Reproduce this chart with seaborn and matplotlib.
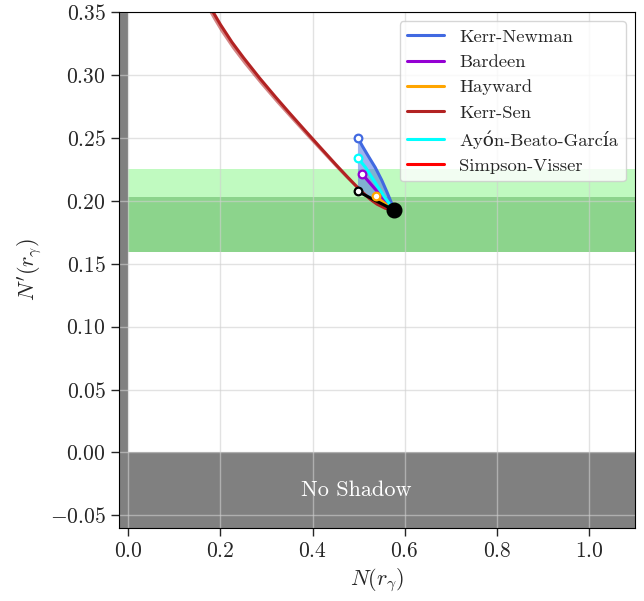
import matplotlib
matplotlib.use('Agg')
import matplotlib.pyplot as plt
import seaborn as sns
import numpy as np

# values
ks_x = [0.165, 0.184, 0.200, 0.225, 0.250, 0.285, 0.320, 0.350, 0.385, 0.416,
        0.450, 0.475, 0.494, 0.510, 0.525, 0.540, 0.558, 0.577]
ks_y = [0.3625, 0.3500, 0.3400, 0.3260, 0.3137, 0.2975, 0.2823, 0.2697, 0.2553, 0.2427,
        0.2290, 0.2192, 0.2120, 0.2062, 0.2013, 0.1973, 0.1940, 0.1925]
ks_y_low = [0.3565, 0.3442, 0.3345, 0.3210, 0.3090, 0.2933, 0.2784, 0.2662, 0.2521, 0.2399,
            0.2265, 0.2171, 0.2103, 0.2048, 0.2002, 0.1966, 0.1936, 0.1925]

kn_x = [0.4985, 0.508, 0.521, 0.536, 0.550, 0.562, 0.571, 0.577]
kn_y = [0.250, 0.2435, 0.2355, 0.2265, 0.2165, 0.2065, 0.1985, 0.1925]

abg_x = [0.4985, 0.515, 0.535, 0.556, 0.577]
abg_y = [0.234, 0.2265, 0.2150, 0.2030, 0.1925]

bard_x = [0.507, 0.530, 0.555, 0.577]
bard_y = [0.2215, 0.2118, 0.2012, 0.1925]

hay_x = [0.537, 0.557, 0.577]
hay_y = [0.2035, 0.1978, 0.1925]

sv_x = [0.577, 0.577]
sv_y = [0.1925, 0.1890]

blk_x = [0.4985, 0.538, 0.577]
blk_y = [0.2074, 0.1999, 0.1925]

schw = (0.577, 0.1925)

band_light = (0.1595, 0.2254)
band_dark = (0.1595, 0.2032)

sns.set_style('ticks')
plt.rcParams['font.family'] = ['cmr10', 'DejaVu Serif']
plt.rcParams['mathtext.fontset'] = 'cm'
plt.rcParams['axes.formatter.use_mathtext'] = True

fig = plt.figure(figsize=(6.44, 6.01), dpi=100)
ax = fig.add_axes([0.185, 0.1215, 0.801, 0.8585])

ax.axvspan(-0.02, 0.0, color='gray', lw=0, zorder=0.5)
ax.axhspan(-0.06, 0.0, color='gray', lw=0, zorder=0.5)
ax.axhspan(*band_light, color='#c0fac0', lw=0, zorder=0.4)
ax.axhspan(*band_dark, color='#8cd48c', lw=0, zorder=0.45)
ax.text(0.495, -0.03, 'No Shadow', color='white', fontsize=16, ha='center', va='center')

# Kerr-Newman region
ax.fill(kn_x + blk_x[::-1], kn_y + blk_y[::-1], color='royalblue', alpha=0.5, lw=0, zorder=1.6)

# Kerr-Sen band
ax.fill_between(ks_x, ks_y_low, ks_y, color='firebrick', alpha=0.55, lw=0, zorder=1.7)

series = [
    ('Kerr-Newman', kn_x, kn_y, 'royalblue'),
    ('Bardeen', bard_x, bard_y, 'darkviolet'),
    ('Hayward', hay_x, hay_y, 'orange'),
    ('Kerr-Sen', ks_x, ks_y, 'firebrick'),
    ('Ayón-Beato-García', abg_x, abg_y, 'cyan'),
    ('Simpson-Visser', sv_x, sv_y, 'red'),
]
for name, xs, ys, c in series:
    sns.lineplot(x=xs, y=ys, sort=False, color=c, lw=2.2, label=name, ax=ax)
sns.lineplot(x=blk_x, y=blk_y, sort=False, color='black', lw=2.2, ax=ax)

for name, xs, ys, c in series:
    if name in ('Kerr-Sen', 'Simpson-Visser'):
        continue
    ax.plot(xs[0], ys[0], 'o', ms=5.5, mfc='white', mec=c, mew=1.6, zorder=3)
ax.plot(blk_x[0], blk_y[0], 'o', ms=5.5, mfc='white', mec='black', mew=1.6, zorder=3)
ax.plot(*schw, 'o', color='black', ms=10.5, zorder=4)

ax.set_xlim(-0.02, 1.1)
ax.set_ylim(-0.06, 0.35)
ax.set_xticks(np.arange(0, 1.01, 0.2))
ax.set_yticks(np.arange(-0.05, 0.351, 0.05))
ax.grid(True, color='#d0d0d0', alpha=0.6, lw=1)
for s in ax.spines.values():
    s.set_visible(True)
    s.set_color('black')
ax.tick_params(labelsize=15.5, length=6, width=1, direction='out')
ax.xaxis.set_major_formatter(matplotlib.ticker.FuncFormatter(lambda v, p: r'$%.1f$' % v))
ax.yaxis.set_major_formatter(matplotlib.ticker.FuncFormatter(lambda v, p: r'$%.2f$' % v))
ax.set_xlabel(r'$N(r_\gamma)$', fontsize=16)
ax.set_ylabel(r"$N'(r_\gamma)$", fontsize=16)

ax.legend(loc='upper right', fontsize=13.4, frameon=True, framealpha=0.8)

fig.savefig('out.png', dpi=100)
